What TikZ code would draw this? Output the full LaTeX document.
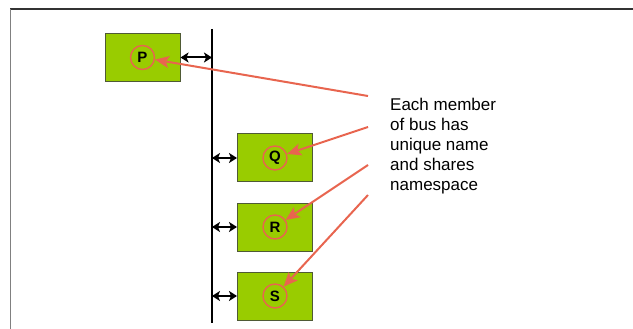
\documentclass[tikz,border=0pt]{standalone}
\usepackage{fontspec}
\setmainfont{Liberation Sans}
\usetikzlibrary{arrows.meta,positioning}
\definecolor{busgreen}{HTML}{99CC00}
\definecolor{boxedge}{HTML}{4F5A35}
\definecolor{callout}{HTML}{E8654F}
\begin{document}
\begin{tikzpicture}[
  x=1pt,y=-1pt,
  member/.style={draw=boxedge,fill=busgreen,line width=1pt,minimum width=75pt,
                 minimum height=48pt,inner sep=0pt},
  tag/.style={circle,draw=callout,line width=1.4pt,minimum size=24pt,inner sep=0pt,
              font=\fontsize{15}{15}\selectfont\bfseries},
  link/.style={{Stealth[length=8pt,width=10pt,inset=2pt]}-{Stealth[length=8pt,width=10pt,inset=2pt]},
               line width=2pt},
  pointer/.style={-{Stealth[length=14pt,width=12pt,inset=3pt]},draw=callout,fill=callout,line width=2pt},
  note/.style={align=left,inner sep=0pt,font=\fontsize{17}{20}\selectfont},
]
\useasboundingbox (0,0) rectangle (633,329);

%% ---- Frame -----------------------------------------------------------------
\draw[line width=1.5pt,black!80] (10,9) -- (633,9);
\draw[line width=1pt,black!50] (10,9) -- (10,329);

%% ---- Bus -------------------------------------------------------------------
\coordinate (busTop) at (212,29);
\coordinate (busBot) at (212,323);
\draw[line width=2pt] (busTop) -- (busBot);

%% ---- Members ---------------------------------------------------------------
\node[member] (boxP) at (142.5,57.5) {};
\node[member] (boxQ) at (275,158) {};
\node[member, below=20pt of boxQ] (boxR) {};
\node[member, below=20pt of boxR] (boxS) {};

\node[tag] (P) at (boxP) {P};
\node[tag] (Q) at (boxQ) {Q};
\node[tag] (R) at (boxR) {R};
\node[tag] (S) at (boxS) {S};

%% ---- Links to bus ----------------------------------------------------------
\draw[link] (boxP.east) -- (boxP.east -| busTop);
\draw[link] (boxQ.west) -- (boxQ.west -| busTop);
\draw[link] (boxR.west) -- (boxR.west -| busTop);
\draw[link] (boxS.west) -- (boxS.west -| busTop);

%% ---- Note ------------------------------------------------------------------
\node[note, anchor=north west] (note) at (390,97.5)
  {Each member\\of bus has\\unique name\\and shares\\namespace};

\coordinate (fromP) at (368,96);
\coordinate (fromQ) at (368,127);
\coordinate (fromR) at (368,165);
\coordinate (fromS) at (368,195);

%% ---- Pointers --------------------------------------------------------------
\draw[pointer] (fromP) -- (P);
\draw[pointer] (fromQ) -- (Q);
\draw[pointer] (fromR) -- (R);
\draw[pointer] (fromS) -- (S);

\end{tikzpicture}
\end{document}
